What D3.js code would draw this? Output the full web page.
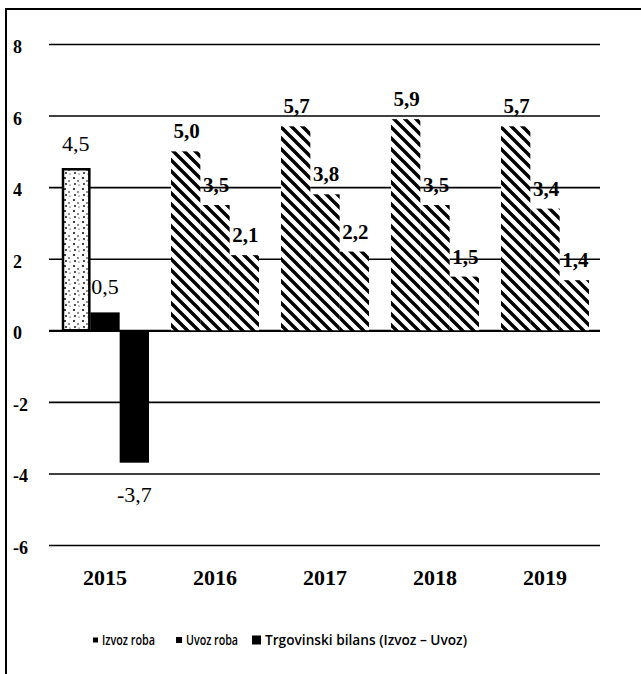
<!DOCTYPE html>
<html>
<head>
<meta charset="utf-8">
<script src="https://cdn.jsdelivr.net/npm/d3@7"></script>
<style>
  html, body { margin: 0; padding: 0; background: #fff; }
  svg { display: block; }
</style>
</head>
<body>
<script>
const years = ["2015", "2016", "2017", "2018", "2019"];
const seriesNames = ["Izvoz roba", "Uvoz roba", "Trgovinski bilans (Izvoz – Uvoz)"];
const izvoz = [4.5, 5.0, 5.7, 5.9, 5.7];
const uvoz = [0.5, 3.5, 3.8, 3.5, 3.4];
const bilans = [-3.7, 2.1, 2.2, 1.5, 1.4];
const yTicks = [-6, -4, -2, 0, 2, 4, 6, 8];

const W = 641, H = 674;
const svg = d3.select("body").append("svg").attr("width", W).attr("height", H);

const defs = svg.append("defs");
const hatch = defs.append("pattern").attr("id", "hatch")
  .attr("patternUnits", "userSpaceOnUse").attr("width", 11).attr("height", 11);
hatch.append("rect").attr("width", 11).attr("height", 11).attr("fill", "#fff");
hatch.append("path").attr("d", "M-2,-2 L13,13 M-7,4 L7,18 M4,-7 L18,7")
  .attr("stroke", "#000").attr("stroke-width", 3.4);

const stip = defs.append("pattern").attr("id", "stipple")
  .attr("patternUnits", "userSpaceOnUse").attr("width", 9).attr("height", 11);
stip.append("rect").attr("width", 9).attr("height", 11).attr("fill", "#fff");
[[2,2,1.0],[6,5,0.8],[3,8,0.9],[7,9,0.6]].forEach(d => {
  stip.append("circle").attr("cx", d[0]).attr("cy", d[1]).attr("r", d[2]).attr("fill", "#000");
});

// frame
svg.append("line").attr("x1", 6).attr("x2", 6).attr("y1", 9).attr("y2", H)
  .attr("stroke", "#000").attr("stroke-width", 2);
svg.append("line").attr("x1", 5).attr("x2", W).attr("y1", 9).attr("y2", 9)
  .attr("stroke", "#000").attr("stroke-width", 2);

const x0 = d3.scaleBand().domain(years).range([50, 600]).paddingInner(0.2).paddingOuter(0.1);
const x1 = d3.scaleBand().domain([0, 1, 2]).range([0, x0.bandwidth()]);
const y = d3.scaleLinear().domain([-6, 8]).range([545, 44]);

// gridlines
const grid = svg.append("g").attr("transform", "translate(600,0)")
  .call(d3.axisLeft(y).tickValues(yTicks).tickSize(551).tickFormat(""));
grid.select(".domain").remove();
grid.selectAll(".tick line").attr("stroke", "#000")
  .attr("stroke-width", d => d === 0 ? 2.2 : 1.6);

// y labels
svg.append("g").selectAll("text").data(yTicks).join("text")
  .attr("x", 13).attr("y", d => y(d) + 3)
  .attr("dominant-baseline", "central")
  .attr("font-family", "Liberation Serif, serif").attr("font-weight", "bold")
  .attr("font-size", 18).text(d => d);

// bars
const rows = [];
years.forEach((yr, i) => {
  [izvoz, uvoz, bilans].forEach((arr, s) => rows.push({ yr, i, s, v: arr[i] }));
});
function fillFor(d) {
  if (d.i === 0) return d.s === 0 ? "url(#stipple)" : "#000";
  return "url(#hatch)";
}
svg.append("g").selectAll("rect").data(rows).join("rect")
  .attr("x", d => x0(d.yr) + x1(d.s) + (d.i === 0 && d.s === 0 ? 2 : 0))
  .attr("width", d => x1.bandwidth() - (d.i === 0 && d.s === 0 ? 3 : 0))
  .attr("y", d => y(Math.max(0, d.v)))
  .attr("height", d => Math.abs(y(d.v) - y(0)))
  .attr("fill", fillFor)
  .attr("stroke", d => (d.i === 0 && d.s === 0) ? "#000" : "none")
  .attr("stroke-width", 2.5);

// value labels
const fmt = v => String(v.toFixed(1)).replace(".", ",");
svg.append("g").selectAll("text").data(rows).join("text")
  .attr("x", d => x0(d.yr) + x1(d.s) + x1.bandwidth() / 2 + (d.i === 0 ? 0 : 1))
  .attr("y", d => d.v < 0 ? y(d.v) + 39 : y(d.v) - (d.i === 0 ? 18 : 13))
  .attr("text-anchor", "middle")
  .attr("font-family", "Liberation Serif, serif")
  .attr("font-weight", d => d.i === 0 ? "normal" : "bold")
  .attr("font-size", d => d.i === 0 ? 22 : 21)
  .text(d => fmt(d.v));

// year labels
svg.append("g").selectAll("text").data(years).join("text")
  .attr("x", d => x0(d) + x0.bandwidth() / 2).attr("y", 585)
  .attr("text-anchor", "middle")
  .attr("font-family", "Liberation Serif, serif").attr("font-weight", "bold")
  .attr("font-size", 22).text(d => d);

// legend
const legX = [93, 176, 252];
const legSize = [5, 6, 9];
const legLen = [53, 52, 202];
const lg = svg.append("g");
seriesNames.forEach((n, k) => {
  lg.append("rect").attr("x", legX[k]).attr("y", 640 - legSize[k] / 2)
    .attr("width", legSize[k]).attr("height", legSize[k]).attr("fill", "#000");
  lg.append("text").attr("x", legX[k] + legSize[k] + 4).attr("y", 640)
    .attr("dominant-baseline", "central")
    .attr("font-family", "Open Sans, sans-serif").attr("font-weight", 600)
    .attr("font-size", 13.5).attr("fill", "#000")
    .attr("textLength", legLen[k]).attr("lengthAdjust", "spacingAndGlyphs")
    .text(n);
});
</script>
</body>
</html>
